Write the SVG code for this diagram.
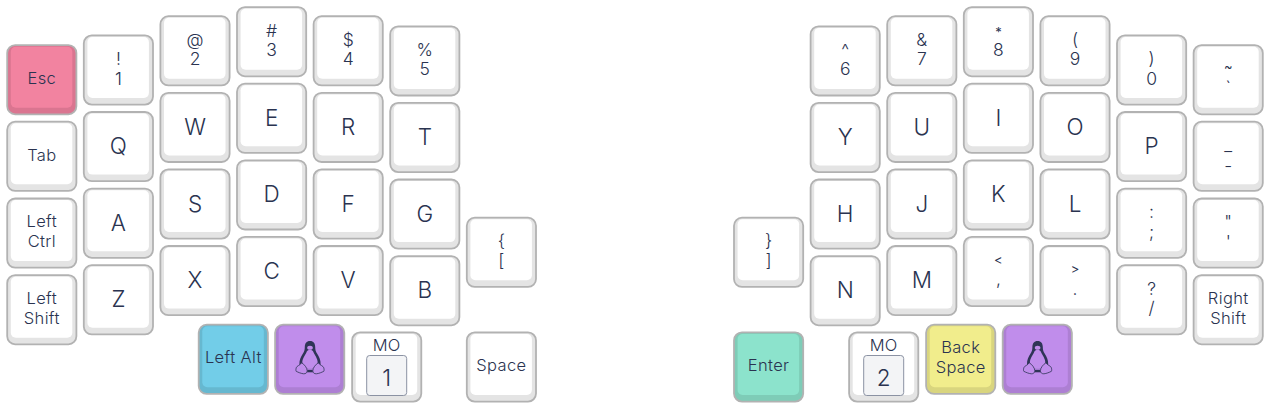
<svg xmlns="http://www.w3.org/2000/svg" width="1270" height="408" viewBox="0 0 1270 408">
<style>
text{font-family:"Inter","Liberation Sans",sans-serif;fill:#2a3350;text-anchor:middle;font-size:16.5px;font-weight:300;letter-spacing:.35px}
.l{font-size:22.5px;letter-spacing:0}
.d{font-size:17.5px;letter-spacing:0}
.s{font-size:13px;letter-spacing:0;font-weight:400}
.o{stroke:#b2b2b2;stroke-width:1.8}
.h{fill:#f3f4f6;stroke:#8b92a3;stroke-width:1}
.pd{fill:#2f3557}
.pb{fill:#c08deb}
.pl{fill:#c08deb;stroke:#2f3557;stroke-width:.8}
</style>
<defs>
<g id="kw"><rect class="o" x=".4" y=".4" width="69.200" height="69.200" rx="8" fill="#e4e4e4"/><rect x="4" y="2" width="61.500" height="61" rx="5" fill="#fff"/></g>
<g id="kr"><rect class="o" x=".4" y=".4" width="69.200" height="69.200" rx="8" fill="#da7590"/><rect x="4" y="2" width="61.500" height="61" rx="5" fill="#f283a0"/></g>
<g id="kb"><rect class="o" x=".4" y=".4" width="69.200" height="69.200" rx="8" fill="#66b8d0"/><rect x="4" y="2" width="61.500" height="61" rx="5" fill="#72cde8"/></g>
<g id="kp"><rect class="o" x=".4" y=".4" width="69.200" height="69.200" rx="8" fill="#ad7fd3"/><rect x="4" y="2" width="61.500" height="61" rx="5" fill="#c08deb"/></g>
<g id="ky"><rect class="o" x=".4" y=".4" width="69.200" height="69.200" rx="8" fill="#d9d57e"/><rect x="4" y="2" width="61.500" height="61" rx="5" fill="#f1ed8c"/></g>
<g id="kg"><rect class="o" x=".4" y=".4" width="69.200" height="69.200" rx="8" fill="#7eccb7"/><rect x="4" y="2" width="61.500" height="61" rx="5" fill="#8ce3cc"/></g>
<g id="tux">
<path class="pd" d="M35.300 16.700c-3.600 0-5.200 2.600-5.200 6 0 3-.6 4.600-2 6.800-1.800 3-3.600 6.200-3.400 10.500l2 4h17.200l2-4c.2-4.300-1.600-7.500-3.400-10.500-1.400-2.200-2-3.800-2-6.800 0-3.400-1.600-6-5.200-6z"/>
<path class="pb" d="M35.300 25.500c-1.800 0-3 .9-3.600 2.700-1 2.500-4.300 6.300-4.100 10.300.2 3.500 3.600 6 7.700 6s7.500-2.500 7.700-6c.2-4-3.100-7.800-4.100-10.300-.6-1.800-1.800-2.700-3.600-2.700z"/>
<ellipse class="pb" cx="35.300" cy="23.500" rx="2.800" ry="2"/>
<path class="pd" d="M32.500 45.500h5.600v2.500h-5.600z"/>
<path class="pl" d="M27 38.500c-1.500 2.500-5 3-5.500 5-.3 1.500-.5 2.500 0 3.500 2 1 5 2.300 7.500 2.500 2 .1 3.500-1 3.500-3 0-3-3-6.500-5.500-8zM43.600 38.500c1.500 2.500 5 3 5.500 5 .3 1.500.5 2.500 0 3.500-2 1-5 2.300-7.500 2.500-2 .1-3.500-1-3.500-3 0-3 3-6.500 5.500-8z"/>
</g>
</defs>
<rect width="1270" height="408" rx="12" fill="#fff"/>
<g id="connectors"/>
<g id="k-esc" transform="translate(6.800,44.700)"><use href="#kr"/><text x="35" y="39">Esc</text></g>
<g id="k-tab" transform="translate(6.800,121.300)"><use href="#kw"/><text x="35" y="39.500">Tab</text></g>
<g id="k-lctrl" transform="translate(6.800,198.100)"><use href="#kw"/><text x="35" y="29">Left</text><text x="35" y="49">Ctrl</text></g>
<g id="k-lshift" transform="translate(6.800,274.700)"><use href="#kw"/><text x="35" y="29">Left</text><text x="35" y="49">Shift</text></g>
<g id="k-1" transform="translate(83.400,35)"><use href="#kw"/><text class="d" x="35" y="30">!</text><text class="d" x="35" y="49.500">1</text></g>
<g id="k-q" transform="translate(83.400,111.600)"><use href="#kw"/><text class="l" x="35" y="42.500">Q</text></g>
<g id="k-a" transform="translate(83.400,188.200)"><use href="#kw"/><text class="l" x="35" y="42.500">A</text></g>
<g id="k-z" transform="translate(83.400,264.800)"><use href="#kw"/><text class="l" x="35" y="42.500">Z</text></g>
<g id="k-2" transform="translate(160,15.800)"><use href="#kw"/><text class="d" x="35" y="30">@</text><text class="d" x="35" y="49.500">2</text></g>
<g id="k-w" transform="translate(160,92.400)"><use href="#kw"/><text class="l" x="35" y="42.500">W</text></g>
<g id="k-s" transform="translate(160,169)"><use href="#kw"/><text class="l" x="35" y="42.500">S</text></g>
<g id="k-x" transform="translate(160,245.600)"><use href="#kw"/><text class="l" x="35" y="42.500">X</text></g>
<g id="k-3" transform="translate(236.600,6.700)"><use href="#kw"/><text class="d" x="35" y="30">#</text><text class="d" x="35" y="49.500">3</text></g>
<g id="k-e" transform="translate(236.600,83.300)"><use href="#kw"/><text class="l" x="35" y="42.500">E</text></g>
<g id="k-d" transform="translate(236.600,159.900)"><use href="#kw"/><text class="l" x="35" y="42.500">D</text></g>
<g id="k-c" transform="translate(236.600,236.500)"><use href="#kw"/><text class="l" x="35" y="42.500">C</text></g>
<g id="k-4" transform="translate(313.200,15.800)"><use href="#kw"/><text class="d" x="35" y="30">$</text><text class="d" x="35" y="49.500">4</text></g>
<g id="k-r" transform="translate(313.200,92.400)"><use href="#kw"/><text class="l" x="35" y="42.500">R</text></g>
<g id="k-f" transform="translate(313.200,169)"><use href="#kw"/><text class="l" x="35" y="42.500">F</text></g>
<g id="k-v" transform="translate(313.200,245.600)"><use href="#kw"/><text class="l" x="35" y="42.500">V</text></g>
<g id="k-5" transform="translate(389.800,25.900)"><use href="#kw"/><text class="d" x="35" y="30">%</text><text class="d" x="35" y="49.500">5</text></g>
<g id="k-t" transform="translate(389.800,102.500)"><use href="#kw"/><text class="l" x="35" y="42.500">T</text></g>
<g id="k-g" transform="translate(389.800,179.100)"><use href="#kw"/><text class="l" x="35" y="42.500">G</text></g>
<g id="k-b" transform="translate(389.800,255.700)"><use href="#kw"/><text class="l" x="35" y="42.500">B</text></g>
<g id="k-lbrace" transform="translate(466.400,217.300)"><use href="#kw"/><text class="d" x="35" y="30">{</text><text class="d" x="35" y="49.500">[</text></g>
<g id="k-lalt" transform="translate(198.300,324.300)"><use href="#kb"/><text x="35" y="39">Left Alt</text></g>
<g id="k-lsuper" transform="translate(274.700,324.300)"><use href="#kp"/><use href="#tux"/></g>
<g id="k-mo1" transform="translate(351.700,332)"><use href="#kw"/><text x="35" y="19">MO</text><rect class="h" x="15" y="23.500" width="40" height="40" rx="3"/><text class="l" x="35" y="53.500">1</text></g>
<g id="k-lspace" transform="translate(466.400,332)"><use href="#kw"/><text x="35" y="39">Space</text></g>
<g id="k-rbrace" transform="translate(733.600,217.300)"><use href="#kw"/><text class="d" x="35" y="30">}</text><text class="d" x="35" y="49.500">]</text></g>
<g id="k-6" transform="translate(810.200,25.900)"><use href="#kw"/><text class="d" x="35" y="30">^</text><text class="d" x="35" y="49.500">6</text></g>
<g id="k-y" transform="translate(810.200,102.500)"><use href="#kw"/><text class="l" x="35" y="42.500">Y</text></g>
<g id="k-h" transform="translate(810.200,179.100)"><use href="#kw"/><text class="l" x="35" y="42.500">H</text></g>
<g id="k-n" transform="translate(810.200,255.700)"><use href="#kw"/><text class="l" x="35" y="42.500">N</text></g>
<g id="k-7" transform="translate(886.800,15.800)"><use href="#kw"/><text class="d" x="35" y="30">&amp;</text><text class="d" x="35" y="49.500">7</text></g>
<g id="k-u" transform="translate(886.800,92.400)"><use href="#kw"/><text class="l" x="35" y="42.500">U</text></g>
<g id="k-j" transform="translate(886.800,169)"><use href="#kw"/><text class="l" x="35" y="42.500">J</text></g>
<g id="k-m" transform="translate(886.800,245.600)"><use href="#kw"/><text class="l" x="35" y="42.500">M</text></g>
<g id="k-8" transform="translate(963.400,6.700)"><use href="#kw"/><text class="s" x="35" y="30">*</text><text class="d" x="35" y="49.500">8</text></g>
<g id="k-i" transform="translate(963.400,83.300)"><use href="#kw"/><text class="l" x="35" y="42.500">I</text></g>
<g id="k-k" transform="translate(963.400,159.900)"><use href="#kw"/><text class="l" x="35" y="42.500">K</text></g>
<g id="k-comma" transform="translate(963.400,236.500)"><use href="#kw"/><text class="s" x="35" y="28">&lt;</text><text class="d" x="35" y="48.500">,</text></g>
<g id="k-9" transform="translate(1040,15.800)"><use href="#kw"/><text class="d" x="35" y="30">(</text><text class="d" x="35" y="49.500">9</text></g>
<g id="k-o" transform="translate(1040,92.400)"><use href="#kw"/><text class="l" x="35" y="42.500">O</text></g>
<g id="k-l" transform="translate(1040,169)"><use href="#kw"/><text class="l" x="35" y="42.500">L</text></g>
<g id="k-dot" transform="translate(1040,245.600)"><use href="#kw"/><text class="s" x="35" y="28">&gt;</text><text class="d" x="35" y="49">.</text></g>
<g id="k-0" transform="translate(1116.600,35)"><use href="#kw"/><text class="d" x="35" y="30">)</text><text class="d" x="35" y="49.500">0</text></g>
<g id="k-p" transform="translate(1116.600,111.600)"><use href="#kw"/><text class="l" x="35" y="42.500">P</text></g>
<g id="k-semi" transform="translate(1116.600,188.200)"><use href="#kw"/><text class="d" x="35" y="30">:</text><text class="d" x="35" y="49.500">;</text></g>
<g id="k-slash" transform="translate(1116.600,264.800)"><use href="#kw"/><text class="d" x="35" y="30">?</text><text class="d" x="35" y="49.500">/</text></g>
<g id="k-tilde" transform="translate(1193.200,44.700)"><use href="#kw"/><text class="s" x="35" y="26.500">~</text><text class="d" x="35" y="49.500">`</text></g>
<g id="k-minus" transform="translate(1193.200,121.300)"><use href="#kw"/><text class="d" x="35" y="30">_</text><text class="d" x="35" y="51">-</text></g>
<g id="k-quote" transform="translate(1193.200,198.100)"><use href="#kw"/><text class="d" x="35" y="30">"</text><text class="d" x="35" y="49.500">'</text></g>
<g id="k-rshift" transform="translate(1193.200,274.700)"><use href="#kw"/><text x="35" y="29">Right</text><text x="35" y="49">Shift</text></g>
<g id="k-enter" transform="translate(733.600,332)"><use href="#kg"/><text x="35" y="39">Enter</text></g>
<g id="k-mo2" transform="translate(848.700,332)"><use href="#kw"/><text x="35" y="19">MO</text><rect class="h" x="15" y="23.500" width="40" height="40" rx="3"/><text class="l" x="35" y="53.500">2</text></g>
<g id="k-bspc" transform="translate(925.700,324.300)"><use href="#ky"/><text x="35" y="29">Back</text><text x="35" y="49">Space</text></g>
<g id="k-rsuper" transform="translate(1002.300,324.300)"><use href="#kp"/><use href="#tux"/></g>
</svg>
